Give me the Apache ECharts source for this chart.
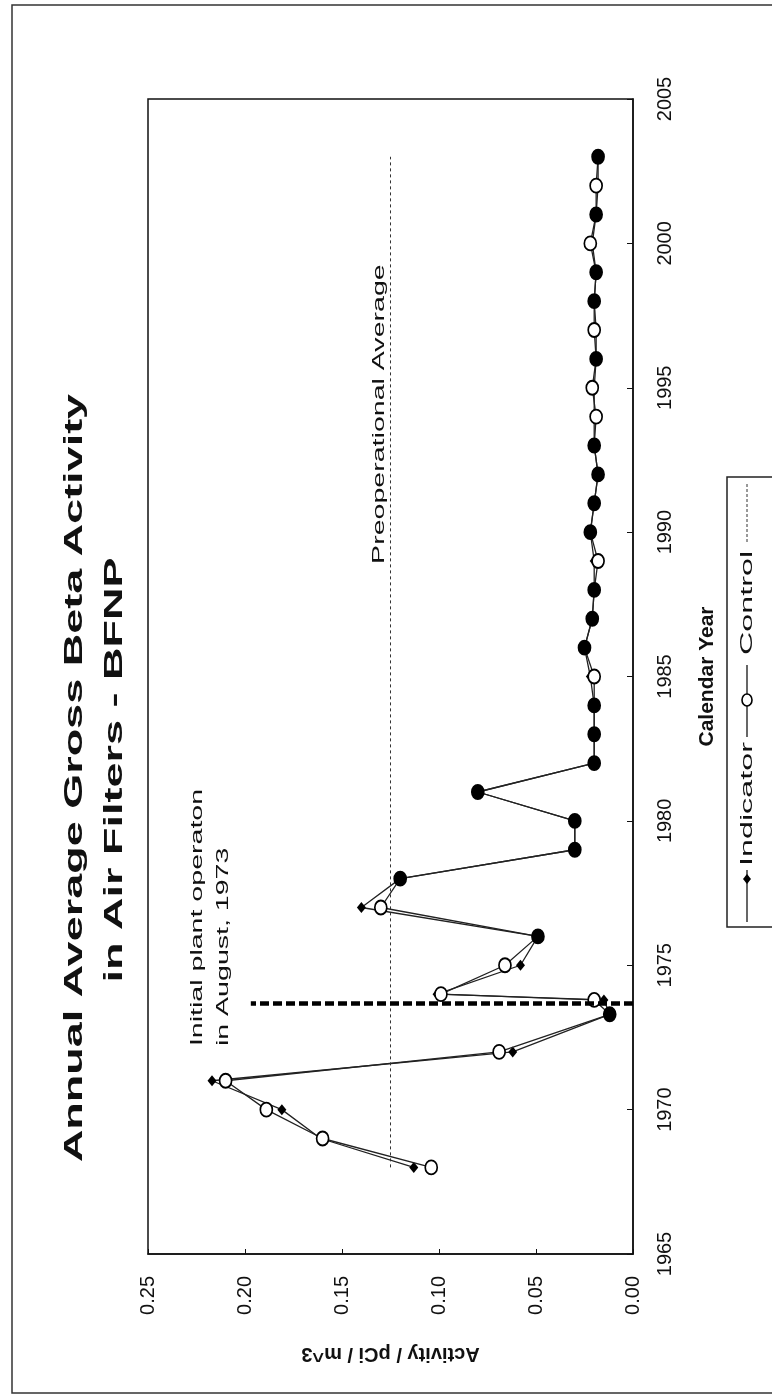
<!DOCTYPE html>
<html>
<head>
<meta charset="utf-8">
<script src="https://cdn.jsdelivr.net/npm/echarts@6/dist/echarts.min.js"></script>
<style>
html,body{margin:0;padding:0;background:#fff;}
#chart{width:772px;height:1397px;}
</style>
</head>
<body>
<div id="chart"></div>
<script>
// ---- data ----
const years = [1968, 1969, 1970, 1971, 1972, 1973.3, 1973.8, 1974, 1975, 1976, 1977, 1978, 1979, 1980, 1981, 1982, 1983, 1984, 1985, 1986, 1987, 1988, 1989, 1990, 1991, 1992, 1993, 1994, 1995, 1996, 1997, 1998, 1999, 2000, 2001, 2002, 2003];
const indicator = [0.113, 0.161, 0.181, 0.217, 0.062, 0.012, 0.015, 0.101, 0.058, 0.049, 0.140, 0.120, 0.030, 0.030, 0.080, 0.020, 0.020, 0.020, 0.022, 0.025, 0.021, 0.020, 0.020, 0.022, 0.020, 0.018, 0.020, 0.020, 0.020, 0.019, 0.019, 0.020, 0.019, 0.021, 0.019, 0.018, 0.018];
const control = [0.104, 0.160, 0.189, 0.210, 0.069, 0.012, 0.020, 0.099, 0.066, 0.049, 0.130, 0.120, 0.030, 0.030, 0.080, 0.020, 0.020, 0.020, 0.020, 0.025, 0.021, 0.020, 0.018, 0.022, 0.020, 0.018, 0.020, 0.019, 0.021, 0.019, 0.020, 0.020, 0.019, 0.022, 0.019, 0.019, 0.018];
const preopAverage = 0.125;
const preopYears = [1968, 2003];
const startupYear = 1973.7;
const startupActivity = [0, 0.197];
const titleLines = ['Annual Average Gross Beta Activity', 'in Air Filters - BFNP'];
const seriesNames = ['Indicator', 'Control'];

const FONT = '"Liberation Sans", Arial, sans-serif';
const chart = echarts.init(document.getElementById('chart'), null, {renderer: 'canvas'});

const indData = years.map((y, i) => [indicator[i], y]);
const ctlData = years.map((y, i) => [control[i], y]);

const option = {
  animation: false,
  backgroundColor: '#fff',
  grid: {left: 148, right: 139, top: 99, bottom: 143, show: true, borderColor: '#111', borderWidth: 1.5, backgroundColor: 'transparent'},
  xAxis: {
    type: 'value', inverse: true, min: 0, max: 0.25, interval: 0.05, position: 'bottom',
    axisLine: {show: true, lineStyle: {color: '#111', width: 1.5}},
    axisTick: {show: true, inside: true, length: 5, lineStyle: {color: '#111'}},
    splitLine: {show: false},
    axisLabel: {rotate: 90, margin: 22, fontSize: 20, color: '#111', fontFamily: FONT, formatter: v => v.toFixed(2)},
    name: 'Activity / pCi / m^3', nameLocation: 'middle', nameGap: 90, nameRotate: 180,
    nameTextStyle: {fontSize: 20, fontWeight: 'bold', color: '#111', fontFamily: FONT}
  },
  yAxis: {
    type: 'value', min: 1965, max: 2005, interval: 5, position: 'right',
    axisLine: {show: true, lineStyle: {color: '#111', width: 1.5}},
    axisTick: {show: true, inside: true, length: 6, lineStyle: {color: '#111'}},
    splitLine: {show: false},
    axisLabel: {rotate: 90, margin: 22, fontSize: 20, color: '#111', fontFamily: FONT, formatter: v => String(v)},
    name: 'Calendar Year', nameLocation: 'middle', nameGap: 64, nameRotate: 90,
    nameTextStyle: {fontSize: 21, fontWeight: 'bold', color: '#111', fontFamily: FONT}
  },
  series: [
    {
      name: seriesNames[0], type: 'line', data: indData,
      symbol: 'diamond', symbolSize: [9, 11],
      itemStyle: {color: '#000'},
      lineStyle: {color: '#222', width: 1.3},
      emphasis: {disabled: true}, z: 3,
      markLine: {
        silent: true, symbol: 'none', animation: false, label: {show: false},
        data: [
          [{coord: [preopAverage, preopYears[0]], lineStyle: {type: [3, 3], width: 1, color: '#333'}},
           {coord: [preopAverage, preopYears[1]]}],
          [{coord: [startupActivity[0], startupYear], lineStyle: {type: [9, 4], width: 4.5, color: '#000'}},
           {coord: [startupActivity[1], startupYear]}]
        ]
      }
    },
    {
      name: seriesNames[1], type: 'line', data: ctlData,
      symbol: 'circle', symbolSize: [12, 14],
      itemStyle: {
        color: p => (Math.abs(indicator[p.dataIndex] - control[p.dataIndex]) < 0.0005 ? '#000' : '#fff'),
        borderColor: '#000', borderWidth: 1.8
      },
      lineStyle: {color: '#222', width: 1.3},
      emphasis: {disabled: true}, z: 4
    }
  ]
};
chart.setOption(option);

const px = (v, y) => chart.convertToPixel({gridIndex: 0}, [v, y]);
const R = Math.PI / 2;
const txt = (x, y, text, font, sx, align, extra) => Object.assign({
  type: 'text', x: x, y: y, rotation: R, scaleX: sx, silent: true,
  style: {text: text, font: font, fill: '#111', x: 0, y: 0, align: align, verticalAlign: 'middle', textAlign: align, textVerticalAlign: 'middle'}
}, extra || {});

const annoPos = px(0.218, 1972.2);
const preopPos = px(0.131, 1988.9);

const graphics = [
  {type: 'rect', silent: true, shape: {x: 12, y: 5, width: 800, height: 1388}, style: {fill: 'none', stroke: '#333', lineWidth: 1.5}},
  txt(75, 778, titleLines[0], 'bold 26px ' + FONT, 1.73, 'center'),
  txt(115, 770, titleLines[1], 'bold 26px ' + FONT, 1.73, 'center'),
  {
    type: 'text', x: annoPos[0], y: annoPos[1], rotation: R, scaleX: 1.68, silent: true,
    style: {text: 'Initial plant operaton\nin August, 1973', font: '17px ' + FONT, lineHeight: 26, fill: '#111', x: 0, y: 0,
            align: 'left', verticalAlign: 'middle', textAlign: 'left', textVerticalAlign: 'middle'}
  },
  txt(preopPos[0], preopPos[1], 'Preoperational Average', '17px ' + FONT, 1.68, 'left'),
  {
    type: 'group', x: 727, y: 927, rotation: R, silent: true,
    children: [
      {type: 'rect', shape: {x: 0, y: 0, width: 450, height: 50}, style: {fill: '#fff', stroke: '#222', lineWidth: 1.5}},
      {type: 'line', shape: {x1: 5, y1: 20, x2: 57, y2: 20}, style: {stroke: '#000', lineWidth: 1.2}},
      {type: 'polygon', shape: {points: [[43, 20], [48, 16], [53, 20], [48, 24]]}, style: {fill: '#000'}},
      {type: 'text', x: 61, y: 20, scaleX: 1.9, style: {text: seriesNames[0], font: '17px ' + FONT, fill: '#111', x: 0, y: 0, align: 'left', verticalAlign: 'middle', textAlign: 'left', textVerticalAlign: 'middle'}},
      {type: 'line', shape: {x1: 190, y1: 20, x2: 262, y2: 20}, style: {stroke: '#000', lineWidth: 1.2}},
      {type: 'ellipse', shape: {cx: 227, cy: 20, rx: 6, ry: 5}, style: {fill: '#fff', stroke: '#000', lineWidth: 1.6}},
      {type: 'text', x: 272, y: 20, scaleX: 1.9, style: {text: seriesNames[1], font: '17px ' + FONT, fill: '#111', x: 0, y: 0, align: 'left', verticalAlign: 'middle', textAlign: 'left', textVerticalAlign: 'middle'}},
      {type: 'line', shape: {x1: 385, y1: 20, x2: 445, y2: 20}, style: {stroke: '#333', lineWidth: 1, lineDash: [3, 2]}}
    ]
  }
];
chart.setOption({graphic: graphics});
</script>
</body>
</html>
